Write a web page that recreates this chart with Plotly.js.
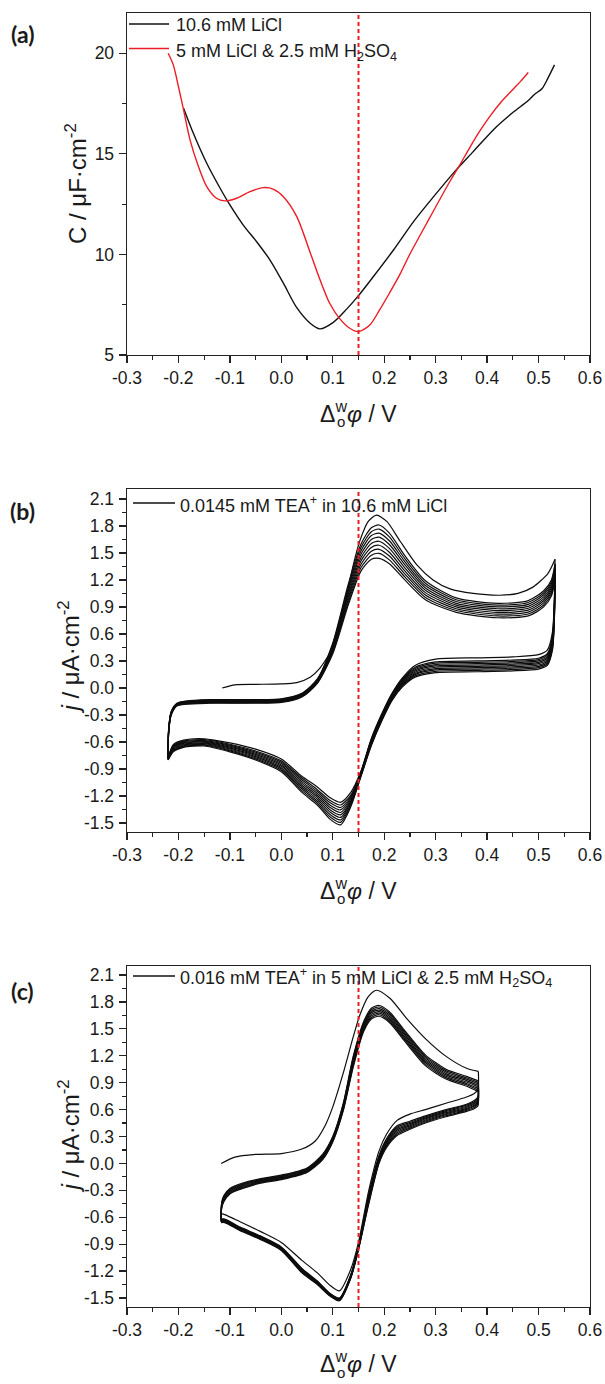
<!DOCTYPE html>
<html><head><meta charset="utf-8">
<script src="https://cdn.plot.ly/plotly-3.0.1.min.js"></script>
<style>html,body{margin:0;padding:0;background:#fff}#chart{width:605px;height:1384px}</style>
</head><body><div id="chart"></div>
<script>
// ===================== DATA =====================
const potentialTickVals = [-0.3,-0.2,-0.1,0.0,0.1,0.2,0.3,0.4,0.5,0.6];
const potentialTickText = ['-0.3','-0.2','-0.1','0.0','0.1','0.2','0.3','0.4','0.5','0.6'];
const potentialMinorVals = [-0.25,-0.15,-0.05,0.05,0.15,0.25,0.35,0.45,0.55];
const capTickVals = [5,10,15,20];
const capTickText = ['5','10','15','20'];
const capMinorVals = [7.5,12.5,17.5];
const currentTickVals = [-1.5,-1.2,-0.9,-0.6,-0.3,0,0.3,0.6,0.9,1.2,1.5,1.8,2.1];
const currentTickText = ['-1.5','-1.2','-0.9','-0.6','-0.3','0.0','0.3','0.6','0.9','1.2','1.5','1.8','2.1'];
const currentMinorVals = [-1.35,-1.05,-0.75,-0.45,-0.15,0.15,0.45,0.75,1.05,1.35,1.65,1.95];
const refPotential = 0.15;

// (a) capacitance curves
const liclName = '10.6 mM LiCl';
const liclE = [-0.19,-0.171,-0.145,-0.119,-0.10,-0.074,-0.048,-0.022,0.004,0.03,0.056,0.075,0.101,0.127,0.15,0.179,0.218,0.257,0.296,0.334,0.373,0.412,0.45,0.48,0.492,0.507,0.518,0.531];
const liclC = [17.27,16.02,14.53,13.29,12.46,11.46,10.63,9.72,8.57,7.35,6.58,6.3,6.62,7.28,7.95,8.9,10.22,11.63,12.87,14.03,15.11,16.19,17.05,17.65,17.95,18.25,18.75,19.42];
const acidName = '5 mM LiCl &amp; 2.5 mM H<sub>2</sub>SO<sub>4</sub>';
const acidE = [-0.22,-0.21,-0.2,-0.19,-0.1775,-0.161,-0.145,-0.126,-0.11,-0.087,-0.061,-0.035,-0.016,0.004,0.03,0.056,0.075,0.094,0.113,0.133,0.15,0.172,0.191,0.21,0.23,0.249,0.288,0.327,0.347,0.366,0.385,0.405,0.428,0.45,0.465,0.48];
const acidC = [20.0,19.42,18.34,17.18,15.69,14.36,13.37,12.79,12.66,12.79,13.12,13.32,13.25,12.87,11.88,10.1,8.75,7.57,6.82,6.33,6.16,6.49,7.24,8.07,8.98,9.97,11.8,13.6,14.45,15.3,16.1,16.85,17.6,18.2,18.6,19.04];

// (b) CV, 0.0145 mM TEA+ in 10.6 mM LiCl
const bName = '0.0145 mM TEA<sup>+</sup> in 10.6 mM LiCl';
const bFirstE = [-0.115,-0.09,-0.05,0.0,0.03,0.056,0.075,0.10,0.12,0.14,0.153,0.169,0.185,0.205,0.231,0.263,0.295,0.328,0.373,0.425,0.46,0.489,0.518,0.532];
const bFirstJ = [0.0,0.035,0.04,0.045,0.06,0.12,0.22,0.45,0.85,1.37,1.64,1.85,1.92,1.85,1.63,1.37,1.20,1.10,1.05,1.03,1.05,1.12,1.27,1.43];
const bFwdE = [-0.22,-0.219,-0.214,-0.203,-0.185,-0.14,0.0,0.04,0.07,0.10,0.13,0.155,0.175,0.19,0.21,0.24,0.28,0.34,0.42,0.48,0.51,0.525,0.532];
const bFwdJ = [
 [-0.77,-0.45,-0.26,-0.17,-0.145,-0.13,-0.12,-0.06,0.10,0.50,1.15,1.60,1.78,1.81,1.72,1.47,1.19,1.00,0.94,0.97,1.08,1.20,1.38],
 [-0.775,-0.456,-0.265,-0.174,-0.149,-0.135,-0.125,-0.065,0.094,0.485,1.121,1.563,1.736,1.765,1.678,1.436,1.164,0.98,0.92,0.949,1.057,1.178,1.358],
 [-0.778,-0.463,-0.27,-0.178,-0.154,-0.14,-0.13,-0.07,0.088,0.47,1.093,1.525,1.693,1.72,1.635,1.403,1.138,0.96,0.90,0.928,1.035,1.155,1.335],
 [-0.781,-0.469,-0.275,-0.181,-0.158,-0.145,-0.135,-0.075,0.081,0.455,1.064,1.488,1.649,1.675,1.593,1.369,1.111,0.94,0.88,0.906,1.012,1.133,1.313],
 [-0.784,-0.475,-0.28,-0.185,-0.163,-0.15,-0.14,-0.08,0.075,0.44,1.035,1.45,1.605,1.63,1.55,1.335,1.085,0.92,0.86,0.885,0.99,1.11,1.29],
 [-0.788,-0.481,-0.285,-0.189,-0.167,-0.155,-0.145,-0.085,0.069,0.425,1.006,1.413,1.561,1.585,1.508,1.301,1.059,0.90,0.84,0.864,0.968,1.088,1.268],
 [-0.791,-0.488,-0.29,-0.193,-0.171,-0.16,-0.15,-0.09,0.063,0.41,0.978,1.375,1.518,1.54,1.465,1.268,1.033,0.88,0.82,0.843,0.945,1.065,1.245],
 [-0.794,-0.494,-0.295,-0.196,-0.176,-0.165,-0.155,-0.095,0.056,0.395,0.949,1.338,1.474,1.495,1.423,1.234,1.006,0.86,0.80,0.821,0.922,1.043,1.223],
 [-0.797,-0.50,-0.30,-0.20,-0.18,-0.17,-0.16,-0.10,0.05,0.38,0.92,1.30,1.43,1.44,1.38,1.20,0.98,0.84,0.78,0.80,0.90,1.02,1.20]
];
const bRevE = [0.532,0.531,0.527,0.517,0.50,0.45,0.38,0.30,0.26,0.235,0.215,0.195,0.175,0.155,0.135,0.115,0.095,0.07,0.04,0.0,-0.05,-0.10,-0.15,-0.19,-0.21,-0.22];
const bRevJ = [
 [1.43,1.05,0.62,0.42,0.37,0.345,0.335,0.32,0.25,0.11,-0.06,-0.29,-0.56,-0.92,-1.16,-1.27,-1.22,-1.10,-0.98,-0.79,-0.68,-0.61,-0.565,-0.58,-0.63,-0.77],
 [1.38,1.0,0.58,0.38,0.33,0.31,0.30,0.29,0.23,0.10,-0.07,-0.30,-0.57,-0.93,-1.19,-1.30,-1.25,-1.13,-1.00,-0.81,-0.70,-0.625,-0.575,-0.59,-0.64,-0.775],
 [1.358,0.975,0.56,0.364,0.315,0.295,0.285,0.275,0.216,0.089,-0.079,-0.309,-0.579,-0.936,-1.206,-1.328,-1.276,-1.151,-1.02,-0.825,-0.713,-0.636,-0.584,-0.599,-0.649,-0.778],
 [1.335,0.95,0.54,0.348,0.30,0.28,0.27,0.26,0.203,0.078,-0.088,-0.318,-0.588,-0.943,-1.223,-1.355,-1.303,-1.173,-1.04,-0.84,-0.725,-0.646,-0.593,-0.608,-0.658,-0.781],
 [1.313,0.925,0.52,0.331,0.285,0.265,0.255,0.245,0.189,0.066,-0.096,-0.326,-0.596,-0.949,-1.239,-1.383,-1.329,-1.194,-1.06,-0.855,-0.738,-0.657,-0.601,-0.616,-0.666,-0.784],
 [1.29,0.90,0.50,0.315,0.27,0.25,0.24,0.23,0.175,0.055,-0.105,-0.335,-0.605,-0.955,-1.255,-1.41,-1.355,-1.215,-1.08,-0.87,-0.75,-0.668,-0.61,-0.625,-0.675,-0.788],
 [1.268,0.875,0.48,0.299,0.255,0.235,0.225,0.215,0.161,0.044,-0.114,-0.344,-0.614,-0.961,-1.271,-1.438,-1.381,-1.236,-1.10,-0.885,-0.763,-0.678,-0.619,-0.634,-0.684,-0.791],
 [1.245,0.85,0.46,0.283,0.24,0.22,0.21,0.20,0.148,0.033,-0.123,-0.353,-0.623,-0.968,-1.288,-1.465,-1.408,-1.258,-1.12,-0.90,-0.775,-0.689,-0.628,-0.643,-0.693,-0.794],
 [1.223,0.825,0.44,0.266,0.225,0.205,0.195,0.185,0.134,0.021,-0.131,-0.361,-0.631,-0.974,-1.304,-1.493,-1.434,-1.279,-1.14,-0.915,-0.788,-0.699,-0.636,-0.651,-0.701,-0.797],
 [1.20,0.80,0.42,0.25,0.21,0.19,0.18,0.17,0.12,0.01,-0.14,-0.37,-0.64,-0.98,-1.32,-1.52,-1.46,-1.30,-1.16,-0.93,-0.80,-0.71,-0.645,-0.66,-0.71,-0.80]
];

// (c) CV, 0.016 mM TEA+ in 5 mM LiCl & 2.5 mM H2SO4
const cName = '0.016 mM TEA<sup>+</sup> in 5 mM LiCl &amp; 2.5 mM H<sub>2</sub>SO<sub>4</sub>';
const cFirstE = [-0.117,-0.09,-0.05,0.0,0.04,0.066,0.085,0.10,0.12,0.14,0.153,0.169,0.185,0.211,0.243,0.282,0.321,0.36,0.383];
const cFirstJ = [0.0,0.07,0.10,0.11,0.16,0.25,0.42,0.63,1.0,1.415,1.66,1.86,1.93,1.84,1.62,1.38,1.19,1.06,1.025];
const cFwdE = [-0.117,-0.116,-0.112,-0.10,-0.075,-0.04,0.0,0.05,0.08,0.10,0.12,0.14,0.16,0.175,0.19,0.21,0.24,0.28,0.32,0.36,0.383];
const cFwdJ = [
 [-0.56,-0.44,-0.36,-0.28,-0.22,-0.17,-0.13,-0.05,0.10,0.30,0.66,1.20,1.58,1.73,1.76,1.69,1.48,1.21,1.05,0.97,0.92],
 [-0.62,-0.449,-0.37,-0.289,-0.229,-0.177,-0.137,-0.057,0.091,0.291,0.649,1.183,1.564,1.713,1.743,1.673,1.463,1.193,1.034,0.954,0.903],
 [-0.626,-0.457,-0.38,-0.297,-0.237,-0.184,-0.144,-0.064,0.083,0.283,0.637,1.166,1.549,1.696,1.726,1.656,1.446,1.176,1.019,0.939,0.886],
 [-0.631,-0.466,-0.39,-0.306,-0.246,-0.191,-0.151,-0.071,0.074,0.274,0.626,1.149,1.533,1.679,1.709,1.639,1.429,1.159,1.003,0.923,0.869],
 [-0.637,-0.474,-0.40,-0.314,-0.254,-0.199,-0.159,-0.079,0.066,0.266,0.614,1.131,1.517,1.661,1.691,1.621,1.411,1.141,0.987,0.907,0.851],
 [-0.643,-0.483,-0.41,-0.323,-0.263,-0.206,-0.166,-0.086,0.057,0.257,0.603,1.114,1.501,1.644,1.674,1.604,1.394,1.124,0.971,0.891,0.834],
 [-0.649,-0.491,-0.42,-0.331,-0.271,-0.213,-0.173,-0.093,0.049,0.249,0.591,1.097,1.486,1.627,1.657,1.587,1.377,1.107,0.956,0.876,0.817],
 [-0.654,-0.50,-0.43,-0.34,-0.28,-0.22,-0.18,-0.10,0.04,0.24,0.58,1.08,1.47,1.61,1.64,1.57,1.36,1.09,0.94,0.86,0.80]
];
const cRevE = [0.383,0.382,0.375,0.36,0.32,0.28,0.25,0.225,0.205,0.19,0.17,0.15,0.135,0.113,0.095,0.07,0.04,0.0,-0.04,-0.08,-0.11,-0.117];
const cRevJ = [
 [1.025,0.82,0.78,0.74,0.67,0.60,0.55,0.48,0.33,0.14,-0.30,-0.88,-1.18,-1.42,-1.36,-1.22,-1.08,-0.88,-0.76,-0.65,-0.57,-0.56],
 [0.92,0.74,0.70,0.66,0.60,0.53,0.47,0.42,0.28,0.09,-0.34,-0.92,-1.24,-1.50,-1.45,-1.31,-1.17,-0.93,-0.81,-0.71,-0.62,-0.62],
 [0.903,0.726,0.687,0.649,0.589,0.519,0.457,0.404,0.266,0.077,-0.356,-0.926,-1.246,-1.504,-1.454,-1.316,-1.177,-0.936,-0.816,-0.716,-0.626,-0.626],
 [0.886,0.711,0.674,0.637,0.577,0.507,0.444,0.389,0.251,0.064,-0.371,-0.931,-1.251,-1.509,-1.459,-1.321,-1.184,-0.941,-0.821,-0.721,-0.631,-0.631],
 [0.869,0.697,0.661,0.626,0.566,0.496,0.431,0.373,0.237,0.051,-0.387,-0.937,-1.257,-1.513,-1.463,-1.327,-1.191,-0.947,-0.827,-0.727,-0.637,-0.637],
 [0.851,0.683,0.649,0.614,0.554,0.484,0.419,0.357,0.223,0.039,-0.403,-0.943,-1.263,-1.517,-1.467,-1.333,-1.199,-0.953,-0.833,-0.733,-0.643,-0.643],
 [0.834,0.669,0.636,0.603,0.543,0.473,0.406,0.341,0.209,0.026,-0.419,-0.949,-1.269,-1.521,-1.471,-1.339,-1.206,-0.959,-0.839,-0.739,-0.649,-0.649],
 [0.817,0.654,0.623,0.591,0.531,0.461,0.393,0.326,0.194,0.013,-0.434,-0.954,-1.274,-1.526,-1.476,-1.344,-1.213,-0.964,-0.844,-0.744,-0.654,-0.654],
 [0.80,0.64,0.61,0.58,0.52,0.45,0.38,0.31,0.18,0.0,-0.45,-0.96,-1.28,-1.53,-1.48,-1.35,-1.22,-0.97,-0.85,-0.75,-0.66,-0.66]
];

// ===================== LAYOUT / STYLE =====================
const W = 605, H = 1384;
const plotLeft = 127, plotRight = 590;
const panelBox = [{top:13, bottom:355}, {top:489, bottom:832}, {top:966, bottom:1307}];
const FONT = 'Liberation Sans, Arial, Helvetica, sans-serif';
const INK = '#1a1a1a';
const RED = '#ec1c24';
const px2x = p => p / W;
const px2y = p => 1 - p / H;

const traces = [];
traces.push({type:'scatter', mode:'lines', name: liclName, x: liclE, y: liclC, xaxis:'x', yaxis:'y',
  line:{color:'#111', width:1.4, shape:'spline', smoothing:0.8}, hoverinfo:'skip'});
traces.push({type:'scatter', mode:'lines', name: acidName, x: acidE, y: acidC, xaxis:'x', yaxis:'y',
  line:{color:RED, width:1.4, shape:'spline', smoothing:0.8}, hoverinfo:'skip'});

function addCV(name, firstE, firstJ, fwdE, fwdJ, revE, revJ, xa, ya) {
  const seg = (x, y, n) => ({type:'scatter', mode:'lines', name:n, x, y, xaxis:xa, yaxis:ya,
    line:{color:'#0d0d0d', width:1.2, shape:'spline', smoothing:0.7}, hoverinfo:'skip'});
  traces.push(seg(firstE, firstJ, name));
  for (let k = 0; k < revJ.length; k++) {
    traces.push(seg(revE, revJ[k], name));
    if (k < fwdJ.length) traces.push(seg(fwdE, fwdJ[k], name));
  }
}
addCV(bName, bFirstE, bFirstJ, bFwdE, bFwdJ, bRevE, bRevJ, 'x2', 'y2');
addCV(cName, cFirstE, cFirstJ, cFwdE, cFwdJ, cRevE, cRevJ, 'x3', 'y3');

const tickFont = {family: FONT, size: 17.5, color: INK};
function xAxis(anchor) {
  return {domain:[px2x(plotLeft), px2x(plotRight)], anchor, range:[-0.3, 0.6],
    tickmode:'array', tickvals: potentialTickVals, ticktext: potentialTickText,
    ticks:'outside', ticklen:7, tickwidth:1.3, tickcolor:'#222',
    minor:{tickmode:'array', tickvals: potentialMinorVals, ticks:'outside', ticklen:4, tickwidth:1.2, tickcolor:'#222', showgrid:false},
    showline:true, mirror:true, linecolor:'#222', linewidth:1.4, showgrid:false, zeroline:false,
    tickfont: tickFont, ticklabelstandoff: 0, fixedrange:true};
}
function yAxis(anchor, box, range, vals, text, minor) {
  return {domain:[px2y(box.bottom), px2y(box.top)], anchor, range,
    tickmode:'array', tickvals: vals, ticktext: text,
    ticks:'outside', ticklen:7, tickwidth:1.3, tickcolor:'#222',
    minor:{tickmode:'array', tickvals: minor, ticks:'outside', ticklen:4, tickwidth:1.2, tickcolor:'#222', showgrid:false},
    showline:true, mirror:true, linecolor:'#222', linewidth:1.4, showgrid:false, zeroline:false,
    tickfont: tickFont, ticklabelstandoff: 1, fixedrange:true};
}

const annotations = [];
const shapes = [];
function txt(text, xpx, ypx, o) {
  annotations.push(Object.assign({text, xref:'paper', yref:'paper', x:px2x(xpx), y:px2y(ypx),
    showarrow:false, xanchor:'left', yanchor:'middle', font:{family:FONT, size:18, color:INK}}, o || {}));
}
function legendLine(x0, x1, ypx, color) {
  shapes.push({type:'line', xref:'paper', yref:'paper', x0:px2x(x0), x1:px2x(x1), y0:px2y(ypx), y1:px2y(ypx),
    line:{color, width:1.5}});
}

const labels = ['(a)', '(b)', '(c)'];
const labelY = [34, 511, 991];
const titleGap = [57, 57, 55];
const xAxes = ['x', 'x2', 'x3'];
const yRefs = ['y', 'y2', 'y3'];
panelBox.forEach((box, i) => {
  // panel letter
  txt('<b>' + labels[i] + '</b>', 23, labelY[i], {xanchor:'center', font:{family:'Lato, Open Sans, sans-serif', size:23, color:INK}});
  // x-axis title  Δ_o^w φ / V
  const cx = (plotLeft + plotRight) / 2, ty = box.bottom + titleGap[i];
  txt('Δ<sup>w</sup><i>φ</i> / V', cx, ty, {xanchor:'center', font:{family:FONT, size:23, color:INK}});
  txt('o', cx - 17.5, ty + 10, {xanchor:'center', font:{family:FONT, size:15, color:INK}});
  // reference potential (red dashed)
  shapes.push({type:'line', xref: xAxes[i], yref: yRefs[i] + ' domain', x0: refPotential, x1: refPotential, y0:0, y1:1,
    line:{color:RED, width:2, dash:'4px,3px'}});
});
// y titles
txt('C / μF·cm<sup>-2</sup>', 76, (panelBox[0].top + panelBox[0].bottom)/2, {xanchor:'center', textangle:-90, font:{family:FONT, size:24, color:INK}});
txt('<i>j</i> / μA·cm<sup>-2</sup>', 68, (panelBox[1].top + panelBox[1].bottom)/2 - 3, {xanchor:'center', textangle:-90, font:{family:FONT, size:24, color:INK}});
txt('<i>j</i> / μA·cm<sup>-2</sup>', 68, (panelBox[2].top + panelBox[2].bottom)/2, {xanchor:'center', textangle:-90, font:{family:FONT, size:24, color:INK}});

// legends
legendLine(129, 169, 24, '#111');
txt(liclName, 174, 25);
legendLine(129, 169, 48.5, RED);
txt(acidName, 174, 53);
legendLine(133, 175, 503, '#111');
txt(bName, 178, 504);
legendLine(133, 175, 976, '#111');
txt(cName, 178, 977);

const layout = {
  width: W, height: H, margin:{l:0, r:0, t:0, b:0}, showlegend:false,
  paper_bgcolor:'#fff', plot_bgcolor:'#fff',
  xaxis: xAxis('y'), xaxis2: xAxis('y2'), xaxis3: xAxis('y3'),
  yaxis: yAxis('x', panelBox[0], [5, 22], capTickVals, capTickText, capMinorVals),
  yaxis2: yAxis('x2', panelBox[1], [-1.6, 2.21], currentTickVals, currentTickText, currentMinorVals),
  yaxis3: yAxis('x3', panelBox[2], [-1.6, 2.2], currentTickVals, currentTickText, currentMinorVals),
  annotations, shapes
};
Plotly.newPlot('chart', traces, layout, {displayModeBar:false, staticPlot:true});
</script></body></html>
